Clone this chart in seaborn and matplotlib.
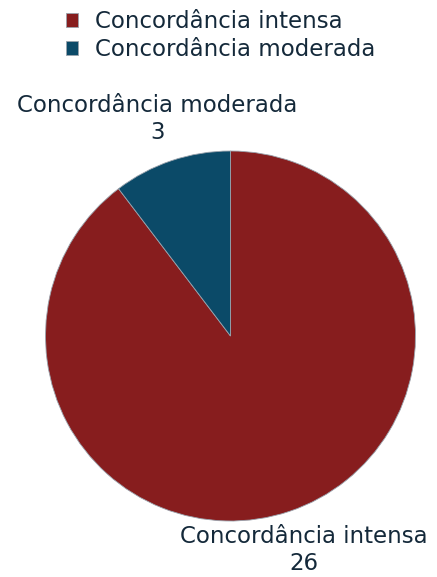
import matplotlib
matplotlib.use("Agg")
import matplotlib.pyplot as plt
import seaborn as sns

categories = ["Concordância intensa", "Concordância moderada"]
counts = [26, 3]
colors = ["#871d1e", "#0b4a68"]

sns.set_theme(style="white")
plt.rcParams["font.family"] = ["DejaVu Sans"]
text_color = "#14293a"

W, H = 437, 577
fig = plt.figure(figsize=(W / 100, H / 100), dpi=100)
ax = fig.add_axes([0, 0, 1, 1])

labels = [f"{c}\n{v}" for c, v in zip(categories, counts)]
wedges, texts = ax.pie(
    counts,
    labels=labels,
    colors=colors,
    startangle=90,
    counterclock=False,
    center=(230.5, 241),
    radius=185,
    labeldistance=1.24,
    frame=True,
    wedgeprops=dict(linewidth=0.6, edgecolor="#9aa3ad"),
    textprops=dict(fontsize=16.5, color=text_color),
)
for t in texts:
    t.set_horizontalalignment("center")
    t.set_verticalalignment("center")
    t.set_multialignment("center")
    t.set_linespacing(1.22)
# keep the lower label clear of the bottom edge
x0, y0 = texts[0].get_position()
texts[0].set_position((x0, y0 + 3))

ax.set_xlim(0, W)
ax.set_ylim(0, H)
ax.set_aspect("equal")
ax.axis("off")

fig.legend(
    wedges,
    categories,
    loc="upper center",
    bbox_to_anchor=(0.505, 1.018),
    frameon=False,
    fontsize=16.5,
    labelcolor=text_color,
    handlelength=0.55,
    handleheight=0.55,
    handletextpad=0.75,
    labelspacing=0.2,
)

fig.savefig("out.png", dpi=100, facecolor="white")
